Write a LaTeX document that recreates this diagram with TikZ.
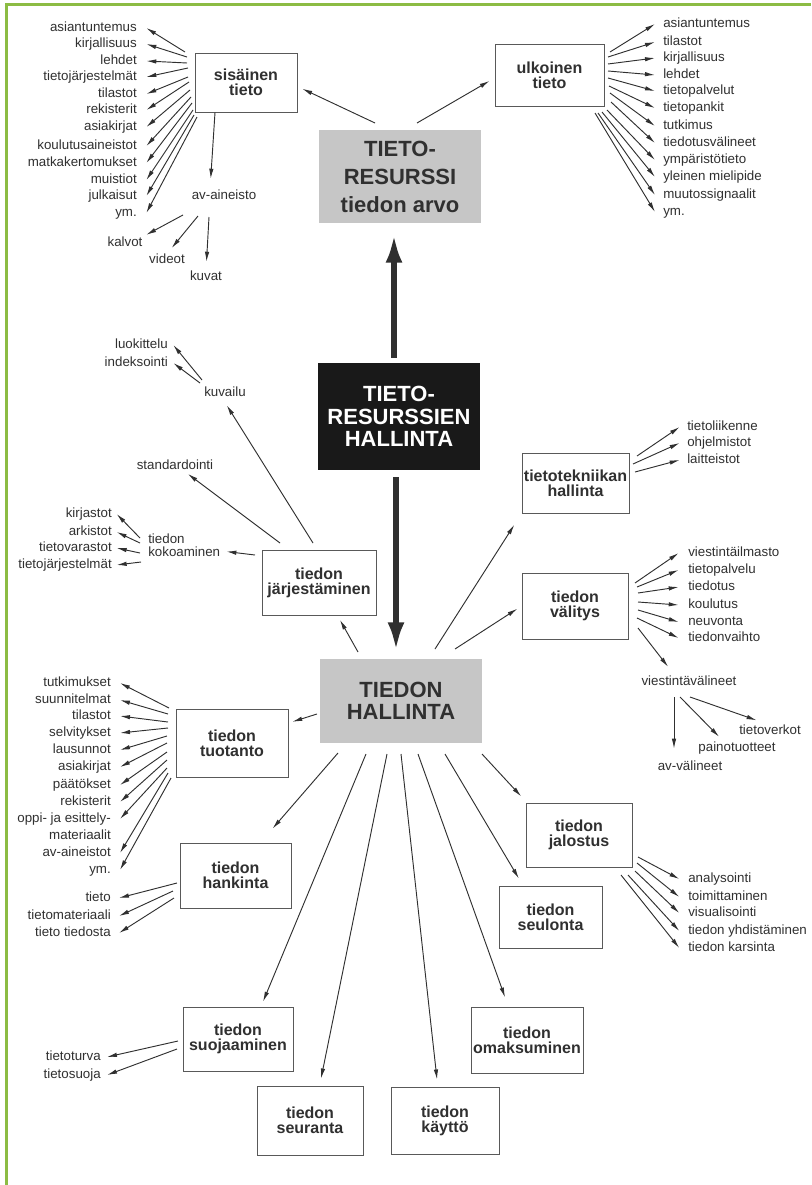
\documentclass[tikz,border=0pt]{standalone}
\usepackage{fontspec}
\setmainfont{Liberation Sans}
\usetikzlibrary{arrows.meta}
\definecolor{ink}{RGB}{48,48,48}
\definecolor{frame}{RGB}{140,188,68}
\definecolor{screen}{RGB}{198,198,198}
\begin{document}
\begin{tikzpicture}[x=0.75pt,y=-0.75pt,
 lbl/.style={inner sep=0pt, text=ink, font=\fontsize{10}{12}\selectfont, text height=7pt, text depth=2pt},
 box/.style={draw=ink!80, line width=0.7pt, fill=white, align=center, text=ink, font=\fontsize{12}{11.3}\selectfont\bfseries, inner sep=0pt},
 bigbox/.style={align=center, inner sep=0pt, minimum width=121.5pt, font=\fontsize{16.5}{17}\selectfont\bfseries},
 arr/.style={draw=ink, line width=0.7pt, -{Latex[length=7.5pt,width=3.3pt]}},
 big/.style={draw=ink, line width=5pt, -{Latex[length=22pt,width=12.5pt]}}]
\useasboundingbox (0,0) rectangle (811,1185);
\fill[white] (0,0) rectangle (811,1185);
\draw[frame, line width=2.4pt] (6.5,1185) -- (6.5,4.5) -- (811,4.5);

% ---------- main boxes ----------
\node[bigbox, fill=screen, text=ink, minimum height=69.75pt, font=\fontsize{16.5}{21}\selectfont\bfseries] (res) at (400,176.5) {TIETO-\\RESURSSI\\tiedon arvo};
\node[bigbox, fill=black!90, text=white, minimum height=80.25pt] (trh) at (399,416.5) {TIETO-\\RESURSSIEN\\HALLINTA};
\node[bigbox, fill=screen, text=ink, minimum height=63pt, font=\fontsize{16.5}{16.5}\selectfont\bfseries] (th) at (401,701) {TIEDON\\HALLINTA};

\draw[big, shorten <=3.75pt, shorten >=7.5pt] ([xshift=-3.75pt]trh.north) -- ([xshift=-3.75pt]trh.north |- res.south);
\draw[big, shorten <=5.25pt, shorten >=5.25pt] ([xshift=-2.25pt]trh.south) -- ([xshift=-2.25pt]trh.south |- th.north);

% ---------- small boxes ----------
\node[box, minimum width=76.5pt, minimum height=44.25pt] (sis) at (246,82.5) {sisäinen\\tieto};
\node[box, minimum width=81.75pt, minimum height=46.5pt] (ulk) at (549.5,75) {ulkoinen\\tieto};
\node[box, minimum width=85.5pt, minimum height=48.75pt] (jarj) at (319,582.5) {tiedon\\järjestäminen};
\node[box, minimum width=80.25pt, minimum height=45pt] (tek) at (575.5,483) {tietotekniikan\\hallinta};
\node[box, minimum width=79.5pt, minimum height=49.5pt] (val) at (575,606) {tiedon\\välitys};
\node[box, minimum width=84pt, minimum height=51pt] (tuo) at (232,743) {tiedon\\tuotanto};
\node[box, minimum width=83.25pt, minimum height=48.75pt] (han) at (235.5,875.5) {tiedon\\hankinta};
\node[box, minimum width=79.5pt, minimum height=48pt] (jal) at (579,835) {tiedon\\jalostus};
\node[box, minimum width=77.25pt, minimum height=46.5pt] (seul) at (550.5,917) {tiedon\\seulonta};
\node[box, minimum width=82.5pt, minimum height=48pt] (suo) at (238,1039) {tiedon\\suojaaminen};
\node[box, minimum width=84pt, minimum height=49.5pt] (oma) at (527,1040) {tiedon\\omaksuminen};
\node[box, minimum width=79.5pt, minimum height=51.75pt] (seur) at (310,1120.5) {tiedon\\seuranta};
\node[box, minimum width=81pt, minimum height=50.25pt] (kay) at (445,1120.5) {tiedon\\käyttö};

% ---------- TIETO-RESURSSI to its sources ----------
\coordinate (rA) at (375,123);
\coordinate (rB) at (417,123);
\draw[arr, shorten >=4pt] (rA) -- ([yshift=-3pt]sis.east);
\draw[arr, shorten >=4.3pt] (rB) -- ([yshift=-2.25pt]ulk.west);

% ---------- TIEDON HALLINTA to its functions ----------
\coordinate (tA) at (358,652);
\coordinate (tB) at (435,649);
\coordinate (tC) at (455,649);
\coordinate (tD) at (317,714);
\coordinate (tE) at (338,753);
\coordinate (tF) at (366,754);
\coordinate (tG) at (387,754);
\coordinate (tH) at (401,754);
\coordinate (tI) at (418,754);
\coordinate (tJ) at (445,754);
\coordinate (tK) at (482,754);
\draw[arr, shorten >=3.75pt] (tA) -- (jarj);
\draw[arr, shorten >=10pt] (tB) -- (tek.south west);
\draw[arr, shorten >=3.75pt] (tC) -- (val.west);
\draw[arr, shorten >=3pt] (tD) -- ([yshift=15pt]tuo.east);
\draw[arr, shorten >=13.8pt] (tE) -- ([xshift=-23.25pt]han.north east);
\draw[arr, shorten >=4pt] (tF) -- ([xshift=17.25pt]suo.north);
\draw[arr, shorten >=5.4pt] (tG) -- ([xshift=7.2pt]seur.north);
\draw[arr, shorten >=5.3pt] (tH) -- ([xshift=-5.4pt]kay.north);
\draw[arr, shorten >=7.2pt] (tI) -- ([xshift=-14pt]oma.north);
\draw[arr, shorten >=6.1pt] (tJ) -- ([xshift=-20.6pt]seul.north);
\draw[arr, shorten >=6.2pt] (tK) -- ([xshift=1pt]jal.north west);

% ---------- sisainen tieto ----------
\foreach \n/\txt/\y/\sx/\sy in {1/asiantuntemus/28/185/52, 2/kirjallisuus/44/187/57, 3/lehdet/61/187/63,
  4/tietojärjestelmät/77/188/68, 5/tilastot/94/188/77, 6/rekisterit/110/189/82, 7/asiakirjat/127/190/90,
  8/koulutusaineistot/146/191/97, 9/matkakertomukset/163/192/103, 10/muistiot/180/193/110,
  11/julkaisut/196/194/115, 12/ym./213/197/117}{
  \node[lbl, anchor=east] (si\n) at (137,\y) {\txt};
  \coordinate (sc\n) at (\sx,\sy);
  \draw[arr] (sc\n) -- ([xshift=7pt]si\n.east);
}
\node[lbl] (av) at (224,196) {av-aineisto};
\draw[arr, shorten >=8.25pt] ([xshift=-23.25pt]sis.south) -- ([xshift=-10.5pt]av.north);
\node[lbl] (kalvot) at (125,243) {kalvot};
\node[lbl] (videot) at (167,260) {videot};
\node[lbl] (kuvat) at (206,277) {kuvat};
\coordinate (aA) at (183,215);
\coordinate (aB) at (198,216);
\coordinate (aC) at (209,217);
\draw[arr, shorten >=3pt] (aA) -- (kalvot.north east);
\draw[arr, shorten >=5.5pt] (aB) -- (videot.north);
\draw[arr, shorten >=6.75pt] (aC) -- (kuvat.north);

% ---------- ulkoinen tieto ----------
\foreach \n/\txt/\y/\sx/\sy in {1/asiantuntemus/24/610/52, 2/tilastot/42/608/57, 3/kirjallisuus/58/608/64,
  4/lehdet/75/608/71, 5/tietopalvelut/91/608/78, 6/tietopankit/108/609/86, 7/tutkimus/126/610/93,
  8/tiedotusvälineet/143/611/102, 9/ympäristötieto/160/607/110, 10/yleinen mielipide/177/602/112,
  11/muutossignaalit/195/598/113, 12/ym./212/595/113}{
  \node[lbl, anchor=west] (ul\n) at (663,\y) {\txt};
  \coordinate (uc\n) at (\sx,\sy);
  \draw[arr] (uc\n) -- ([xshift=-6pt]ul\n.west);
}

% ---------- tiedon jarjestaminen ----------
\node[lbl] (kuvailu) at (225,393) {kuvailu};
\node[lbl] (std) at (175,466) {standardointi};
\node[inner sep=0pt, text=ink, font=\fontsize{10}{9.75}\selectfont, align=left, anchor=west] (kok) at (148,545.5) {tiedon\\kokoaminen};
\coordinate (jA) at (313,543);
\coordinate (jB) at (280,543);
\coordinate (jC) at (255,555);
\draw[arr, shorten >=5.3pt] (jA) -- ([xshift=-1.5pt]kuvailu.south);
\draw[arr, shorten >=2pt] (jB) -- ([xshift=8pt]std.south);
\draw[arr, shorten >=4.5pt] (jC) -- ([yshift=-4pt]kok.east);
\foreach \n/\txt/\y/\sx/\sy in {1/luokittelu/345/202/380, 2/indeksointi/363/200/383}{
  \node[lbl, anchor=east] (kv\n) at (168,\y) {\txt};
  \coordinate (vc\n) at (\sx,\sy);
  \draw[arr] (vc\n) -- ([xshift=4pt]kv\n.east);
}
\foreach \n/\txt/\y/\sx/\sy in {1/kirjastot/514/140/538, 2/arkistot/532/140/543,
  3/tietovarastot/548/140/553, 4/tietojärjestelmät/565/141/562}{
  \node[lbl, anchor=east] (ko\n) at (112,\y) {\txt};
  \coordinate (kc\n) at (\sx,\sy);
  \draw[arr] (kc\n) -- ([xshift=3.5pt]ko\n.east);
}

% ---------- tietotekniikan hallinta ----------
\foreach \n/\txt/\y/\sx/\sy in {1/tietoliikenne/427/637/456, 2/ohjelmistot/443/633/464, 3/laitteistot/460/635/472}{
  \node[lbl, anchor=west] (tk\n) at (687,\y) {\txt};
  \coordinate (tc\n) at (\sx,\sy);
  \draw[arr] (tc\n) -- ([xshift=-5.5pt]tk\n.west);
}

% ---------- tiedon valitys ----------
\foreach \n/\txt/\y/\sx/\sy in {1/viestintäilmasto/553/635/583, 2/tietopalvelu/570/637/587, 3/tiedotus/587/638/593,
  4/koulutus/605/638/602, 5/neuvonta/622/638/610, 6/tiedonvaihto/638/637/618}{
  \node[lbl, anchor=west] (va\n) at (688,\y) {\txt};
  \coordinate (wc\n) at (\sx,\sy);
  \draw[arr] (wc\n) -- ([xshift=-7pt]va\n.west);
}
\node[lbl] (vv) at (689,682) {viestintävälineet};
\node[lbl] (avv) at (690,767) {av-välineet};
\node[lbl] (paino) at (737,748) {painotuotteet};
\node[lbl] (tv) at (770,731) {tietoverkot};
\coordinate (vA) at (638,628);
\coordinate (vB) at (674,697);
\coordinate (vC) at (680,697);
\coordinate (vD) at (690,697);
\draw[arr, shorten >=8.4pt] (vA) -- ([xshift=-10.5pt]vv.north);
\draw[arr, shorten >=9pt] (vB) -- ([xshift=-12pt]avv.north);
\draw[arr, shorten >=5.2pt] (vC) -- ([xshift=-9.75pt]paino.north);
\draw[arr, shorten >=4pt] (vD) -- ([xshift=17pt,yshift=2pt]tv.north west);

% ---------- tiedon tuotanto ----------
\foreach \n/\txt/\y/\sx/\sy in {1/tutkimukset/683/169/708, 2/suunnitelmat/700/168/714, 3/tilastot/716/168/722,
  4/selvitykset/733/168/728, 5/lausunnot/750/167/736, 6/asiakirjat/767/167/743, 7/päätökset/785/167/752,
  8/rekisterit/802/167/760, 9/oppi- ja esittely-/819/167/768, 10/av-aineistot/853/168/773, 11/ym./870/171/778}{
  \node[lbl, anchor=east] (tu\n) at (111,\y) {\txt};
  \coordinate (uuc\n) at (\sx,\sy);
  \draw[arr] (uuc\n) -- ([xshift=6.75pt]tu\n.east);
}
\node[lbl, anchor=east] (mat) at (111,836) {materiaalit};

% ---------- tiedon hankinta ----------
\foreach \n/\txt/\y/\sx/\sy in {1/tieto/898/177/883, 2/tietomateriaali/916/173/891, 3/tieto tiedosta/933/174/898}{
  \node[lbl, anchor=east] (ha\n) at (111,\y) {\txt};
  \coordinate (hc\n) at (\sx,\sy);
  \draw[arr] (hc\n) -- ([xshift=6pt]ha\n.east);
}

% ---------- tiedon jalostus ----------
\foreach \n/\txt/\y/\sx/\sy in {1/analysointi/879/638/857, 2/toimittaminen/897/637/863, 3/visualisointi/913/635/871,
  4/tiedon yhdistäminen/931/628/875, 5/tiedon karsinta/948/621/875}{
  \node[lbl, anchor=west] (ja\n) at (688,\y) {\txt};
  \coordinate (jc\n) at (\sx,\sy);
  \draw[arr] (jc\n) -- ([xshift=-6.5pt]ja\n.west);
}

% ---------- tiedon suojaaminen ----------
\foreach \n/\txt/\y/\sx/\sy in {1/tietoturva/1057/178/1041, 2/tietosuoja/1075/177/1049}{
  \node[lbl, anchor=east] (su\n) at (101,\y) {\txt};
  \coordinate (suc\n) at (\sx,\sy);
  \draw[arr] (suc\n) -- ([xshift=4.5pt]su\n.east);
}
\end{tikzpicture}
\end{document}
